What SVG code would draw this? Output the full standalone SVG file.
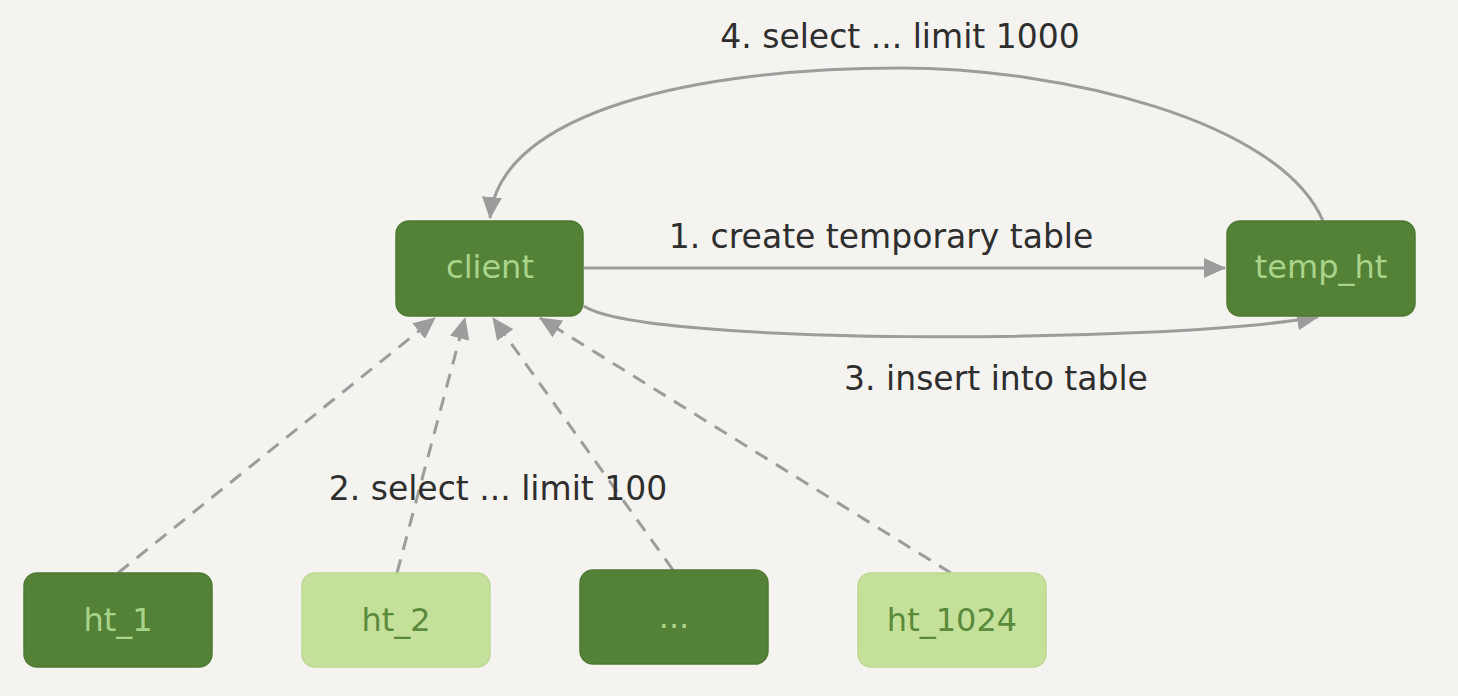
<svg xmlns="http://www.w3.org/2000/svg" width="1458" height="696" viewBox="0 0 1458 696">
  <style>
    .dark { fill: #538236; stroke: #4e7a33; stroke-width: 1.5; }
    .light { fill: #c5e199; stroke: #bcd894; stroke-width: 1.5; }
    .tdark { fill: #a9d48a; font-family: "DejaVu Sans", "Liberation Sans", sans-serif; font-size: 32px; text-anchor: middle; dominant-baseline: central; }
    .tlight { fill: #5a8a3c; font-family: "DejaVu Sans", "Liberation Sans", sans-serif; font-size: 32px; text-anchor: middle; dominant-baseline: central; }
    .lbl { fill: #2e2e2e; font-family: "DejaVu Sans", "Liberation Sans", sans-serif; font-size: 33px; text-anchor: middle; dominant-baseline: central; }
    .edge { fill: none; stroke: #9c9c9c; stroke-width: 3; }
    .dash { stroke-dasharray: 14 10; }
  </style>
  <defs>
    <marker id="arrow" viewBox="0 0 22 20" refX="21" refY="10" markerWidth="22" markerHeight="20" markerUnits="userSpaceOnUse" orient="auto">
      <path d="M0,0 L22,10 L0,20 z" fill="#9c9c9c"/>
    </marker>
  </defs>
  <rect width="1458" height="696" fill="#f4f3ef"/>

  <g id="connectors">
    <path class="edge" d="M584,268 L1225,268" marker-end="url(#arrow)"/>
    <path class="edge" d="M584,306 C640,345 1150,345 1318,317" marker-end="url(#arrow)"/>
    <path class="edge" d="M1323,221 C1280,120 1060,68 900,68 C700,68 500,110 490,218" marker-end="url(#arrow)"/>
    <path class="edge dash" d="M118,573 L435,318" marker-end="url(#arrow)"/>
    <path class="edge dash" d="M397,573 L465,318" marker-end="url(#arrow)"/>
    <path class="edge dash" d="M673,570 L493,318" marker-end="url(#arrow)"/>
    <path class="edge dash" d="M951,573 L540,318" marker-end="url(#arrow)"/>
    <text class="lbl" x="881" y="236">1. create temporary table</text>
    <text class="lbl" x="498" y="488">2. select ... limit 100</text>
    <text class="lbl" x="996" y="378">3. insert into table</text>
    <text class="lbl" x="900" y="36">4. select ... limit 1000</text>
  </g>

  <g id="client">
    <rect class="dark" x="396" y="221" width="187" height="95" rx="13"/>
    <text class="tdark" x="490" y="267">client</text>
  </g>
  <g id="temp_ht">
    <rect class="dark" x="1227" y="221" width="188" height="95" rx="13"/>
    <text class="tdark" x="1321" y="267">temp_ht</text>
  </g>
  <g id="ht_1">
    <rect class="dark" x="24" y="573" width="188" height="94" rx="13"/>
    <text class="tdark" x="118" y="620">ht_1</text>
  </g>
  <g id="ht_2">
    <rect class="light" x="302" y="573" width="188" height="94" rx="13"/>
    <text class="tlight" x="396" y="620">ht_2</text>
  </g>
  <g id="ht_more">
    <rect class="dark" x="580" y="570" width="188" height="94" rx="13"/>
    <text class="tdark" x="674" y="617">...</text>
  </g>
  <g id="ht_1024">
    <rect class="light" x="858" y="573" width="188" height="94" rx="13"/>
    <text class="tlight" x="952" y="620">ht_1024</text>
  </g>
</svg>
